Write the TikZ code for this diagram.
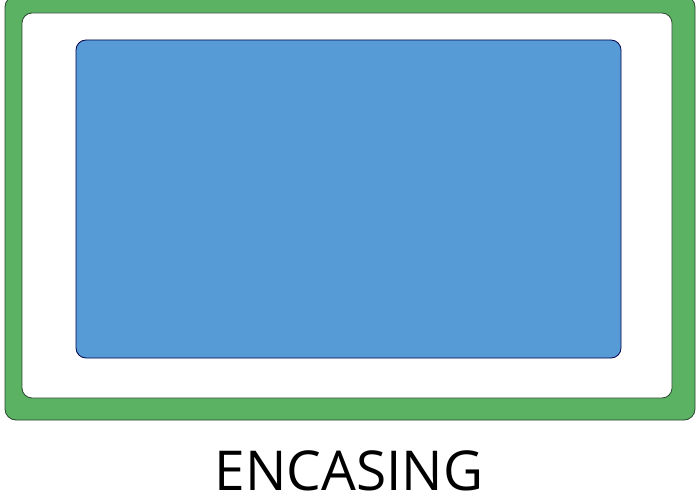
\documentclass[tikz,border=0pt]{standalone}
\usepackage{fontspec}
\setmainfont{Open Sans}
\definecolor{casegreen}{RGB}{90,178,98}
\definecolor{panelblue}{RGB}{86,155,213}
\definecolor{edgedark}{RGB}{40,70,45}
\begin{document}
\begin{tikzpicture}[x=1pt,y=-1pt,
  box/.style={draw=edgedark, line width=0.8pt, rounded corners=11pt, inner sep=0pt, outer sep=0pt}]
\useasboundingbox (0,0) rectangle (700,500);
\node[box, fill=casegreen, minimum width=690pt, minimum height=424pt] (outer) at (350,208) {};
\node[box, fill=white, minimum width=650pt, minimum height=385pt, rounded corners=10pt] (inner) at (347,205.5) {};
\node[box, draw=black!70!blue, fill=panelblue, minimum width=545pt, minimum height=318pt, rounded corners=10pt] (panel) at (348.5,199) {};
\node[anchor=base, inner sep=0pt, font=\fontsize{55}{60}\selectfont] (label) at (349,490) {ENCASING};
\end{tikzpicture}
\end{document}
